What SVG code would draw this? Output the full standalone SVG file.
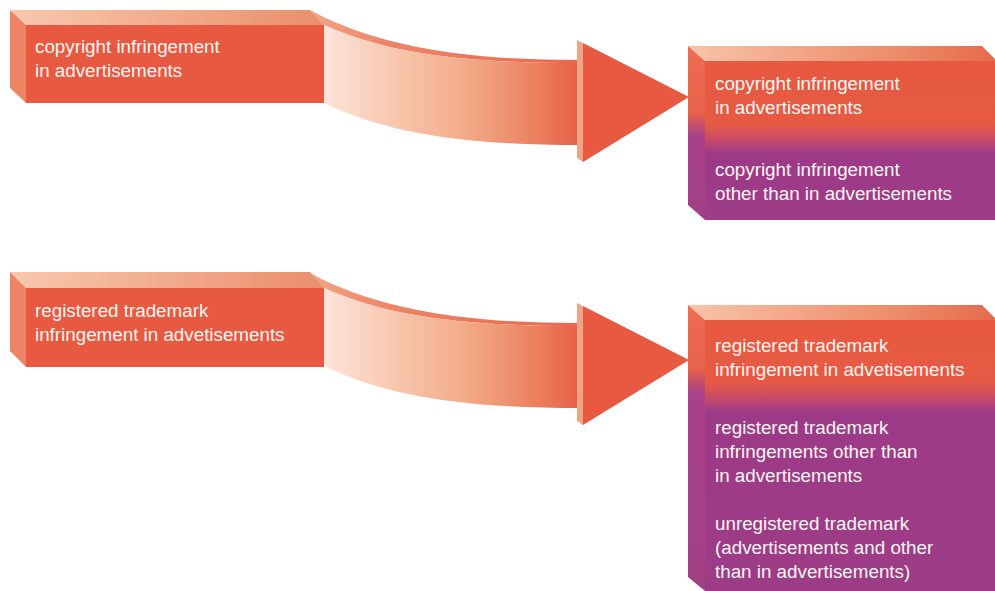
<svg xmlns="http://www.w3.org/2000/svg" width="995" height="591" viewBox="0 0 995 591">
<style>
text{font-family:"Liberation Sans",Arial,sans-serif;font-size:18.8px;fill:#fff6f2}
.front{fill:#e75940}
.side{fill:#ee8466}
.head{fill:#e75940}
.headback{fill:#f0a486}
</style>
<defs>
<linearGradient id="topFace" x1="0" y1="0" x2="1" y2="0">
<stop offset="0" stop-color="#f8c8ad"/>
<stop offset="1" stop-color="#ea8e6c"/>
</linearGradient>
<linearGradient id="topFaceR" x1="0" y1="0" x2="1" y2="0">
<stop offset="0" stop-color="#f8c4a8"/>
<stop offset="0.7" stop-color="#ec8966"/>
<stop offset="1" stop-color="#e56a4c"/>
</linearGradient>
<linearGradient id="body" gradientUnits="userSpaceOnUse" x1="324" y1="0" x2="582" y2="0">
<stop offset="0" stop-color="#fde4da"/>
<stop offset="0.3" stop-color="#f7c4aa"/>
<stop offset="0.55" stop-color="#f2ab88"/>
<stop offset="0.8" stop-color="#ec8462"/>
<stop offset="1" stop-color="#e55c44"/>
</linearGradient>
<linearGradient id="bodyTop" gradientUnits="userSpaceOnUse" x1="310" y1="0" x2="580" y2="0">
<stop offset="0" stop-color="#f2a486"/>
<stop offset="0.3" stop-color="#ee8466"/>
<stop offset="1" stop-color="#e8684e"/>
</linearGradient>
<linearGradient id="grad1" gradientUnits="userSpaceOnUse" x1="0" y1="61" x2="0" y2="220">
<stop offset="0" stop-color="#e75940"/>
<stop offset="0.4" stop-color="#e65a44"/>
<stop offset="0.5" stop-color="#c54a6a"/>
<stop offset="0.58" stop-color="#9d3a88"/>
<stop offset="1" stop-color="#9d3c86"/>
</linearGradient>
<linearGradient id="grad1s" gradientUnits="userSpaceOnUse" x1="0" y1="46" x2="0" y2="220">
<stop offset="0" stop-color="#ec6e52"/>
<stop offset="0.38" stop-color="#e8624a"/>
<stop offset="0.52" stop-color="#a7418a"/>
<stop offset="1" stop-color="#a24086"/>
</linearGradient>
<linearGradient id="grad2" gradientUnits="userSpaceOnUse" x1="0" y1="320" x2="0" y2="591">
<stop offset="0" stop-color="#e75940"/>
<stop offset="0.23" stop-color="#e65a44"/>
<stop offset="0.29" stop-color="#c54a6a"/>
<stop offset="0.34" stop-color="#9d3a88"/>
<stop offset="1" stop-color="#9d3c86"/>
</linearGradient>
<linearGradient id="grad2s" gradientUnits="userSpaceOnUse" x1="0" y1="305" x2="0" y2="591">
<stop offset="0" stop-color="#ec6e52"/>
<stop offset="0.22" stop-color="#e8624a"/>
<stop offset="0.31" stop-color="#a7418a"/>
<stop offset="1" stop-color="#a24086"/>
</linearGradient>
</defs>

<g id="connectors">
<g id="arrow1">
<path d="M310,10 C380,48 470,60 577,60 L580,63 C470,63 390,55 324,25 Z" fill="url(#bodyTop)"/>
<path d="M324,25 C390,55 470,63 580,63 L580,145 C470,145 390,135 324,103 Z" fill="url(#body)"/>
<polygon class="headback" points="577,40 583,43 583,162 577,158"/>
<polygon class="head" points="583,43 689,97 583,162"/>
</g>
<g id="arrow2" transform="translate(0,263)">
<path d="M310,10 C380,48 470,60 577,60 L580,63 C470,63 390,55 324,25 Z" fill="url(#bodyTop)"/>
<path d="M324,25 C390,55 470,63 580,63 L580,145 C470,145 390,135 324,103 Z" fill="url(#body)"/>
<polygon class="headback" points="577,40 583,43 583,162 577,158"/>
<polygon class="head" points="583,43 689,97 583,162"/>
</g>
</g>

<g id="source1">
<polygon points="10,10 310,10 324,25 26,25" fill="url(#topFace)"/>
<polygon class="side" points="10,10 26,25 26,103 10,88"/>
<rect class="front" x="26" y="25" width="298" height="78"/>
<text x="35" y="53">copyright infringement</text>
<text x="35" y="77">in advertisements</text>
</g>

<g id="source2">
<polygon points="10,272 310,272 324,288 26,288" fill="url(#topFace)"/>
<polygon class="side" points="10,272 26,288 26,367 10,351"/>
<rect class="front" x="26" y="288" width="298" height="79"/>
<text x="35" y="317">registered trademark</text>
<text x="35" y="341">infringement in advetisements</text>
</g>

<g id="target1">
<polygon points="688,46 982,46 997,61 705,61" fill="url(#topFaceR)"/>
<polygon points="688,46 705,61 705,220 688,205" fill="url(#grad1s)"/>
<rect x="705" y="61" width="290" height="159" fill="url(#grad1)"/>
<text x="715" y="90">copyright infringement</text>
<text x="715" y="114">in advertisements</text>
<text x="715" y="176">copyright infringement</text>
<text x="715" y="200">other than in advertisements</text>
</g>

<g id="target2">
<polygon points="688,305 982,305 997,320 705,320" fill="url(#topFaceR)"/>
<polygon points="688,305 705,320 705,591 688,577" fill="url(#grad2s)"/>
<rect x="705" y="320" width="290" height="271" fill="url(#grad2)"/>
<text x="715" y="352">registered trademark</text>
<text x="715" y="376">infringement in advetisements</text>
<text x="715" y="434">registered trademark</text>
<text x="715" y="458">infringements other than</text>
<text x="715" y="482">in advertisements</text>
<text x="715" y="530">unregistered trademark</text>
<text x="715" y="554">(advertisements and other</text>
<text x="715" y="578">than in advertisements)</text>
</g>
</svg>
